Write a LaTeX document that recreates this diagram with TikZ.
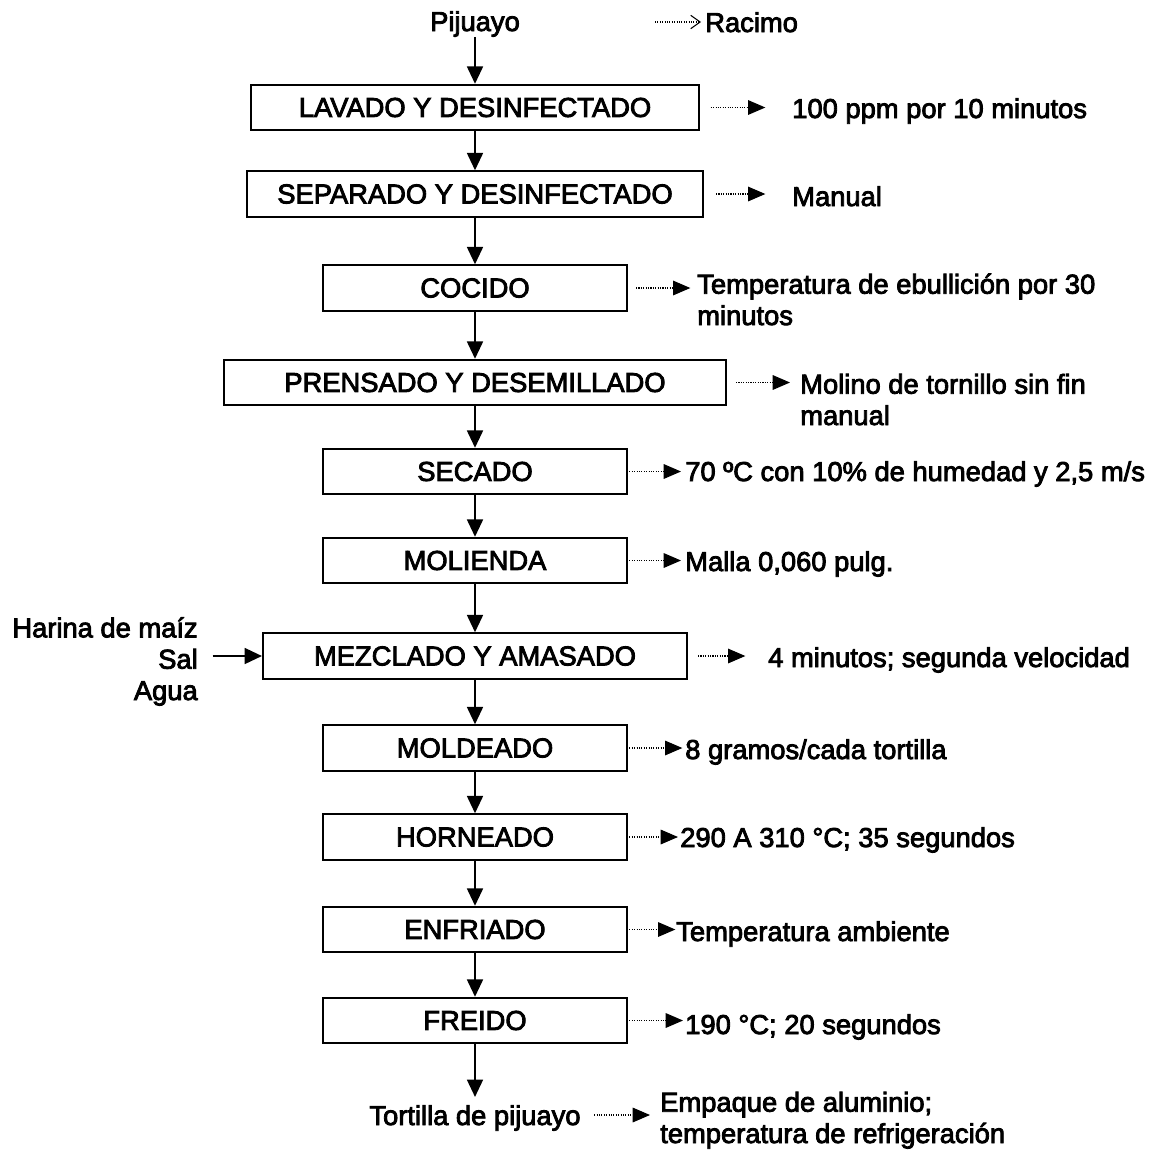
\documentclass[tikz,border=0pt]{standalone}
\usepackage{fontspec}
\setmainfont[FakeBold=3]{Liberation Sans}
\usetikzlibrary{arrows.meta}
\begin{document}
\begin{tikzpicture}[x=0.75pt,y=0.75pt,yscale=-1,xscale=1,
  every node/.style={font=\fontsize{20.5}{23.5}\selectfont,inner sep=0pt},
  proc/.style={draw,line width=1.6pt,minimum height=34pt},
  flow/.style={line width=1.3pt,-{Triangle[length=13pt,width=12pt]}},
  side/.style={densely dotted,line width=0.8pt,-{Triangle[length=13pt,width=11pt]}},
  note/.style={anchor=base west,align=left}]
\useasboundingbox (0,0) rectangle (1168,1154);

%Shape: Process boxes
\node [proc,minimum width=336pt] (lav) at (475,107.5) {LAVADO Y DESINFECTADO};
\node [proc,minimum width=342pt] (sep) at (475,194) {SEPARADO Y DESINFECTADO};
\node [proc,minimum width=228pt] (coc) at (475,288) {COCIDO};
\node [proc,minimum width=376pt] (pre) at (475,382.5) {PRENSADO Y DESEMILLADO};
\node [proc,minimum width=228pt] (sec) at (475,471.5) {SECADO};
\node [proc,minimum width=228pt] (mol) at (475,560.5) {MOLIENDA};
\node [proc,minimum width=318pt] (mez) at (475,656) {MEZCLADO Y AMASADO};
\node [proc,minimum width=228pt] (mod) at (475,748) {MOLDEADO};
\node [proc,minimum width=228pt] (hor) at (475,837) {HORNEADO};
\node [proc,minimum width=228pt] (enf) at (475,929.5) {ENFRIADO};
\node [proc,minimum width=228pt] (fre) at (475,1020.5) {FREIDO};

% Text Node (multi-line ones are set on the baseline of their last line)
\node [anchor=base] (pij) at (475,31) {Pijuayo};
\node [note] (rac) at (705,32) {Racimo};
\node [anchor=base] (tor) at (475,1125) {Tortilla de pijuayo};
\node [anchor=base east,align=right] (inp) at (198,700) {Harina de maíz\\Sal\\Agua};
\node [note] (t1) at (792,118) {100 ppm por 10 minutos};
\node [note] (t2) at (792,206) {Manual};
\node [note] (t3) at (697,325) {Temperatura de ebullición por 30\\minutos};
\node [note] (t4) at (800,425) {Molino de tornillo sin fin\\manual};
\node [note] (t5) at (685,481) {70 ºC con 10\% de humedad y 2,5 m/s};
\node [note] (t6) at (685,571) {Malla 0,060 pulg.};
\node [note] (t7) at (768,667) {4 minutos; segunda velocidad};
\node [note] (t8) at (685,759) {8 gramos/cada tortilla};
\node [note] (t9) at (680,847) {290 A 310 °C; 35 segundos};
\node [note] (t10) at (676,941) {Temperatura ambiente};
\node [note] (t11) at (685,1034) {190 °C; 20 segundos};
\node [note] (emp) at (660,1143) {Empaque de aluminio;\\temperatura de refrigeración};

%Straight Lines: main flow
\draw [flow] (pij.south) -- (lav.north);
\draw [flow] (lav.south) -- (sep.north);
\draw [flow] (sep.south) -- (coc.north);
\draw [flow] (coc.south) -- (pre.north);
\draw [flow] (pre.south) -- (sec.north);
\draw [flow] (sec.south) -- (mol.north);
\draw [flow] (mol.south) -- (mez.north);
\draw [flow] (mez.south) -- (mod.north);
\draw [flow] (mod.south) -- (hor.north);
\draw [flow] (hor.south) -- (enf.north);
\draw [flow] (enf.south) -- (fre.north);
\draw [flow,shorten >=6pt] (fre.south) -- (tor.north);
\draw [flow,shorten <=11pt] (mez.west -| inp.east) -- (mez.west);

%Straight Lines: conditions
\coordinate (rs) at (655,22);
\draw [densely dotted,line width=0.8pt,-{Straight Barb[length=7pt,width=10pt]},shorten >=3pt] (rs) -- (rs -| rac.west);
\draw [side,shorten <=8pt,shorten >=20pt] (lav.east) -- (lav.east -| t1.west);
\draw [side,shorten <=9pt,shorten >=20pt] (sep.east) -- (sep.east -| t2.west);
\draw [side,shorten <=6pt,shorten >=5pt] (coc.east) -- (coc.east -| t3.west);
\draw [side,shorten <=7pt,shorten >=7.5pt] (pre.east) -- (pre.east -| t4.west);
\draw [side,shorten <=1pt,shorten >=3pt] (sec.east) -- (sec.east -| t5.west);
\draw [side,shorten <=1pt,shorten >=3pt] (mol.east) -- (mol.east -| t6.west);
\draw [side,shorten <=7.5pt,shorten >=17pt] (mez.east) -- (mez.east -| t7.west);
\draw [side,shorten <=1pt,shorten >=2pt] (mod.east) -- (mod.east -| t8.west);
\draw [side,shorten <=1pt,shorten >=1.5pt] (hor.east) -- (hor.east -| t9.west);
\draw [side,shorten <=1pt,shorten >=0.5pt] (enf.east) -- (enf.east -| t10.west);
\draw [side,shorten <=1pt,shorten >=1.5pt] (fre.east) -- (fre.east -| t11.west);
\draw [side,shorten <=10pt,shorten >=7.5pt] ([yshift=-7.5pt]tor.base east) -- ([yshift=-7.5pt]tor.base east -| emp.west);

\end{tikzpicture}
\end{document}
